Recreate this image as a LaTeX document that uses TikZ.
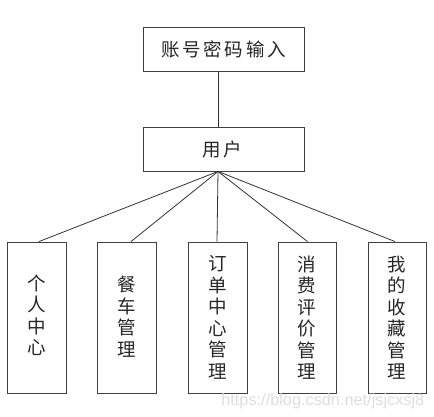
\documentclass[tikz,border=0pt]{standalone}
\usepackage{fontspec}
\setmainfont{Liberation Sans}
\newfontfamily\cjk{Noto Sans CJK SC}
\begin{document}
\begin{tikzpicture}[x=1pt,y=-1pt,
  box/.style={draw=black!75,line width=0.9pt,fill=white,inner sep=0pt},
  conn/.style={draw=black!80,line width=0.8pt},
  hlabel/.style={font=\cjk\fontsize{18.5}{21}\selectfont,text=black!85},
  vlabel/.style={font=\cjk\fontsize{18.5}{21.5}\selectfont,text=black!85,align=center}]
\useasboundingbox (0,0) rectangle (434,416);
% top boxes
\node[box,minimum width=161pt,minimum height=44pt] (login) at (223.5,49) {};
\node[hlabel] (logint) at (223.7,49) {账\hspace{2.6pt}号\hspace{2.6pt}密\hspace{2.6pt}码\hspace{2.6pt}输\hspace{2.6pt}入};
\node[box,minimum width=161pt,minimum height=44pt] (user) at (223.5,149) {};
\node[hlabel] (usert) at (222,149) {用\hspace{2.6pt}户};
% bottom boxes
\node[box,minimum width=59pt,minimum height=151pt] (b1) at (36.5,317.5) {};
\node[box,minimum width=59pt,minimum height=151pt] (b2) at (126.5,317.5) {};
\node[box,minimum width=59pt,minimum height=151pt] (b3) at (217.5,317.5) {};
\node[box,minimum width=58pt,minimum height=151pt] (b4) at (307,317.5) {};
\node[box,minimum width=58pt,minimum height=151pt] (b5) at (397,317.5) {};
\node[vlabel] (t1) at (37,315.5) {个\\人\\中\\心};
\node[vlabel] (t2) at (126.5,316.5) {餐\\车\\管\\理};
\node[vlabel] (t3) at (217.5,317.5) {订\\单\\中\\心\\管\\理};
\node[vlabel] (t4) at (307,317.5) {消\\费\\评\\价\\管\\理};
\node[vlabel] (t5) at (397,317.5) {我\\的\\收\\藏\\管\\理};
% connectors
\draw[conn] ([xshift=-5.5pt]login.south) -- ([xshift=-5.5pt]user.north);
\coordinate (hub) at ([xshift=-5.5pt]user.south);
\draw[conn] (hub) -- ([xshift=2.5pt]b1.north);
\draw[conn] (hub) -- ([xshift=4.5pt]b2.north);
\draw[conn] (hub) -- ([xshift=-0.5pt]b3.north);
\draw[conn] (hub) -- ([xshift=0.5pt]b4.north);
\draw[conn] (hub) -- ([xshift=-2pt]b5.north);
% watermark
\node[anchor=base east,inner sep=0pt,text=black!13,font=\fontsize{16.3}{18}\selectfont] (wm) at (424.5,405) {https://blog.csdn.net/jsjcxsj8};
\end{tikzpicture}
\end{document}
